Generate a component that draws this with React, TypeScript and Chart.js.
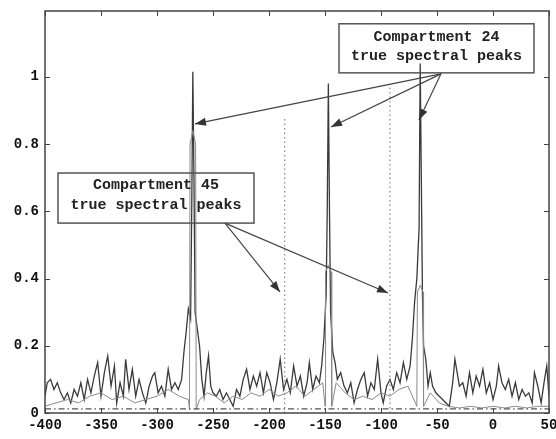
import React, { useEffect, useRef } from "react";
import { Chart, registerables } from "chart.js";

Chart.register(...registerables);

// Compartment 24 magnitude spectrum (solid trace)
const freq24 = [
  -400, -398, -395, -392, -389, -386, -383, -380, -377, -374, -371, -368, -365, -362, -359, -356, -353, -350,
  -347, -344, -341, -338, -336, -333, -330, -328, -325, -322, -319, -316, -313, -310, -307, -304, -302, -299,
  -296, -293, -290, -287, -284, -281, -278, -276, -274, -272, -270, -269, -268, -267, -266, -264, -262, -260,
  -258, -256, -254, -252, -250, -247, -244, -241, -238, -235, -232, -229, -226, -223, -220, -217, -214, -211,
  -208, -205, -202, -199, -196, -193, -190, -187, -184, -181, -178, -175, -172, -169, -166, -164, -161, -158,
  -155, -153, -151, -149, -148, -147, -146, -145, -143, -141, -139, -136, -133, -130, -127, -124, -121, -118,
  -115, -112, -109, -106, -103, -100, -98, -95, -92, -89, -86, -83, -80, -77, -74, -72, -70, -68,
  -66, -65, -64, -63, -62, -60, -58, -56, -54, -51, -48, -45, -42, -39, -36, -34, -32, -30,
  -27, -24, -21, -18, -15, -12, -9, -6, -3, 0, 3, 5, 8, 11, 14, 17, 20, 23,
  26, 29, 32, 35, 37, 40, 43, 46, 48, 50,
];
const mag24 = [
  0.05, 0.09, 0.1, 0.07, 0.09, 0.06, 0.04, 0.06, 0.03, 0.07, 0.05, 0.09, 0.04, 0.1, 0.06, 0.11, 0.15, 0.05,
  0.12, 0.17, 0.08, 0.14, 0.03, 0.09, 0.05, 0.16, 0.07, 0.13, 0.05, 0.1, 0.06, 0.03, 0.08, 0.11, 0.12, 0.06,
  0.08, 0.05, 0.13, 0.07, 0.09, 0.07, 0.1, 0.18, 0.24, 0.31, 0.28, 0.6, 1.015, 0.7, 0.3, 0.25, 0.2, 0.1,
  0.05, 0.12, 0.17, 0.08, 0.06, 0.05, 0.07, 0.04, 0.06, 0.04, 0.02, 0.07, 0.05, 0.1, 0.13, 0.07, 0.11, 0.08,
  0.12, 0.06, 0.12, 0.09, 0.04, 0.09, 0.16, 0.07, 0.1, 0.06, 0.14, 0.08, 0.11, 0.05, 0.09, 0.15, 0.07, 0.11,
  0.09, 0.14, 0.22, 0.35, 0.6, 0.98, 0.6, 0.3, 0.18, 0.15, 0.1, 0.12, 0.08, 0.06, 0.09, 0.03, 0.07, 0.1,
  0.12, 0.05, 0.09, 0.07, 0.16, 0.06, 0.03, 0.08, 0.1, 0.07, 0.12, 0.09, 0.15, 0.1, 0.14, 0.22, 0.33, 0.4,
  0.55, 1.04, 0.7, 0.35, 0.2, 0.16, 0.08, 0.12, 0.08, 0.06, 0.05, 0.04, 0.03, 0.02, 0.09, 0.16, 0.12, 0.08,
  0.09, 0.05, 0.12, 0.06, 0.11, 0.08, 0.13, 0.06, 0.09, 0.04, 0.08, 0.14, 0.09, 0.07, 0.1, 0.05, 0.09, 0.04,
  0.07, 0.05, 0.06, 0.03, 0.12, 0.08, 0.03, 0.1, 0.14, 0.05,
];

// Compartment 45 magnitude spectrum (thin grey trace)
const freq45 = [
  -400, -390, -380, -370, -360, -350, -340, -330, -320, -310, -300, -290, -280, -272, -271, -270.5, -268,
  -265.5, -265, -262, -255, -248, -240, -232, -224, -216, -208, -200, -192, -184, -176, -168, -160, -152,
  -150, -149.5, -147, -144.5, -144, -140, -132, -124, -116, -108, -100, -92, -84, -76, -68, -67.5, -65,
  -62.5, -62, -56, -48, -40, -30, -20, -10, 0, 10, 20, 30, 40, 50,
];
const mag45 = [
  0.02, 0.03, 0.04, 0.03, 0.05, 0.06, 0.04, 0.05, 0.03, 0.04, 0.05, 0.07, 0.05, 0.04, 0.01, 0.8, 0.84,
  0.8, 0.01, 0.04, 0.06, 0.05, 0.03, 0.05, 0.04, 0.06, 0.05, 0.07, 0.05, 0.06, 0.08, 0.05, 0.07, 0.09,
  0.02, 0.42, 0.44, 0.42, 0.02, 0.09, 0.06, 0.04, 0.05, 0.04, 0.06, 0.05, 0.07, 0.08, 0.02, 0.36, 0.38,
  0.36, 0.02, 0.06, 0.03, 0.02, 0.015, 0.02, 0.015, 0.02, 0.015, 0.02, 0.015, 0.02, 0.02,
];

// True spectral peak locations of compartment 45 (dotted stems)
const truePeakFreq45 = [-186, -92];
const truePeakMag45 = [0.88, 0.97];

// Noise floor reference (dash-dot)
const floorFreq = [-400, 50];
const floorMag = [0.012, 0.012];

// Axis ticks
const xTickValues = [-400, -350, -300, -250, -200, -150, -100, -50, 0, 50];
const xTickLabels = ["-400", "-350", "-300", "-250", "-200", "-150", "-100", "-50", "0", "50"];
const yTickValues = [0, 0.2, 0.4, 0.6, 0.8, 1];
const yTickLabels = ["0", "0.2", "0.4", "0.6", "0.8", "1"];

// Text boxes and their arrows, in data units
const callouts = [
  {
    lines: ["Compartment 24", "true spectral peaks"],
    box: { x0: -137.5, x1: 36.6, y0: 1.012, y1: 1.158 },
    lineY: [1.119, 1.06],
    from: { x: -46.4, y: 1.009 },
    to: [
      { x: -266.1, y: 0.86 },
      { x: -144.6, y: 0.851 },
      { x: -66.1, y: 0.872 },
    ],
  },
  {
    lines: ["Compartment 45", "true spectral peaks"],
    box: { x0: -388.4, x1: -213.4, y0: 0.565, y1: 0.714 },
    lineY: [0.679, 0.619],
    from: { x: -239.3, y: 0.565 },
    to: [
      { x: -190.2, y: 0.36 },
      { x: -93.75, y: 0.357 },
    ],
  },
];

const zip = (xs: number[], ys: number[]) => xs.map((x, i) => ({ x, y: ys[i] }));

const TEXT_FONT = "bold 15px 'Liberation Mono', 'DejaVu Sans Mono', monospace";
const TICK_FONT = "bold 14px 'Liberation Mono', 'DejaVu Sans Mono', monospace";

const framePlugin = {
  id: "frameAndCallouts",
  afterDatasetsDraw(chart: any) {
    const ctx: CanvasRenderingContext2D = chart.ctx;
    const xs = chart.scales.x;
    const ys = chart.scales.y;
    const { left, right, top, bottom } = chart.chartArea;
    const px = (v: number) => xs.getPixelForValue(v);
    const py = (v: number) => ys.getPixelForValue(v);

    ctx.save();

    // callout boxes, text, arrows
    for (const c of callouts) {
      const bx0 = px(c.box.x0);
      const bx1 = px(c.box.x1);
      const by0 = py(c.box.y1);
      const by1 = py(c.box.y0);
      ctx.strokeStyle = "#555";
      ctx.lineWidth = 1.5;
      ctx.strokeRect(bx0, by0, bx1 - bx0, by1 - by0);

      ctx.fillStyle = "#222";
      ctx.font = TEXT_FONT;
      ctx.textAlign = "center";
      ctx.textBaseline = "middle";
      c.lines.forEach((t, i) => ctx.fillText(t, (bx0 + bx1) / 2, py(c.lineY[i])));

      const fx = px(c.from.x);
      const fy = py(c.from.y);
      for (const t of c.to) {
        const tx = px(t.x);
        const ty = py(t.y);
        ctx.strokeStyle = "#444";
        ctx.lineWidth = 1.2;
        ctx.beginPath();
        ctx.moveTo(fx, fy);
        ctx.lineTo(tx, ty);
        ctx.stroke();
        const ang = Math.atan2(ty - fy, tx - fx);
        const len = 11;
        const half = 4;
        ctx.fillStyle = "#333";
        ctx.beginPath();
        ctx.moveTo(tx, ty);
        ctx.lineTo(
          tx - len * Math.cos(ang) + half * Math.sin(ang),
          ty - len * Math.sin(ang) - half * Math.cos(ang)
        );
        ctx.lineTo(
          tx - len * Math.cos(ang) - half * Math.sin(ang),
          ty - len * Math.sin(ang) + half * Math.cos(ang)
        );
        ctx.closePath();
        ctx.fill();
      }
    }

    // axes frame
    ctx.strokeStyle = "#444";
    ctx.lineWidth = 1.5;
    ctx.strokeRect(left, top, right - left, bottom - top);

    // inward ticks on all four sides
    ctx.lineWidth = 1;
    const tl = 5;
    ctx.beginPath();
    xTickValues.forEach((v) => {
      const x = Math.round(px(v)) + 0.5;
      ctx.moveTo(x, bottom);
      ctx.lineTo(x, bottom - tl);
      ctx.moveTo(x, top);
      ctx.lineTo(x, top + tl);
    });
    yTickValues.forEach((v) => {
      const y = Math.round(py(v)) + 0.5;
      ctx.moveTo(left, y);
      ctx.lineTo(left + tl, y);
      ctx.moveTo(right, y);
      ctx.lineTo(right - tl, y);
    });
    ctx.stroke();

    // tick labels
    ctx.fillStyle = "#111";
    ctx.font = TICK_FONT;
    ctx.textAlign = "center";
    ctx.textBaseline = "top";
    xTickValues.forEach((v, i) => ctx.fillText(xTickLabels[i], px(v), bottom + 5));
    ctx.textAlign = "right";
    ctx.textBaseline = "middle";
    yTickValues.forEach((v, i) => ctx.fillText(yTickLabels[i], left - 6, py(v)));

    ctx.restore();
  },
};

export default function App() {
  const canvasRef = useRef<HTMLCanvasElement | null>(null);

  useEffect(() => {
    const canvas = canvasRef.current;
    if (!canvas) return;

    const stems = truePeakFreq45.map((f, i) => ({
      type: "line" as const,
      data: [
        { x: f, y: 0 },
        { x: f, y: truePeakMag45[i] },
      ],
      borderColor: "#888",
      borderWidth: 1.2,
      borderDash: [1.5, 3],
      pointRadius: 0,
    }));

    const chart = new Chart(canvas, {
      type: "line",
      data: {
        datasets: [
          {
            data: zip(floorFreq, floorMag),
            borderColor: "#555",
            borderWidth: 1.2,
            borderDash: [6, 3, 1.5, 3],
            pointRadius: 0,
          },
          ...stems,
          {
            data: zip(freq45, mag45),
            borderColor: "#8a8a8a",
            borderWidth: 1,
            pointRadius: 0,
            tension: 0,
          },
          {
            data: zip(freq24, mag24),
            borderColor: "#3a3a3a",
            borderWidth: 1.3,
            pointRadius: 0,
            tension: 0,
          },
        ],
      },
      options: {
        responsive: false,
        animation: false,
        events: [],
        layout: { padding: { left: 45, top: 11, right: 7, bottom: 26 } },
        plugins: {
          legend: { display: false },
          tooltip: { enabled: false },
        },
        scales: {
          x: { type: "linear", min: -400, max: 50, display: false },
          y: { type: "linear", min: 0, max: 1.196, display: false },
        },
      },
      plugins: [framePlugin],
    });

    return () => chart.destroy();
  }, []);

  return (
    <div style={{ position: "absolute", left: 0, top: 0, width: 556, height: 439, background: "#fff" }}>
      <canvas ref={canvasRef} width={556} height={439} style={{ display: "block" }} />
    </div>
  );
}
